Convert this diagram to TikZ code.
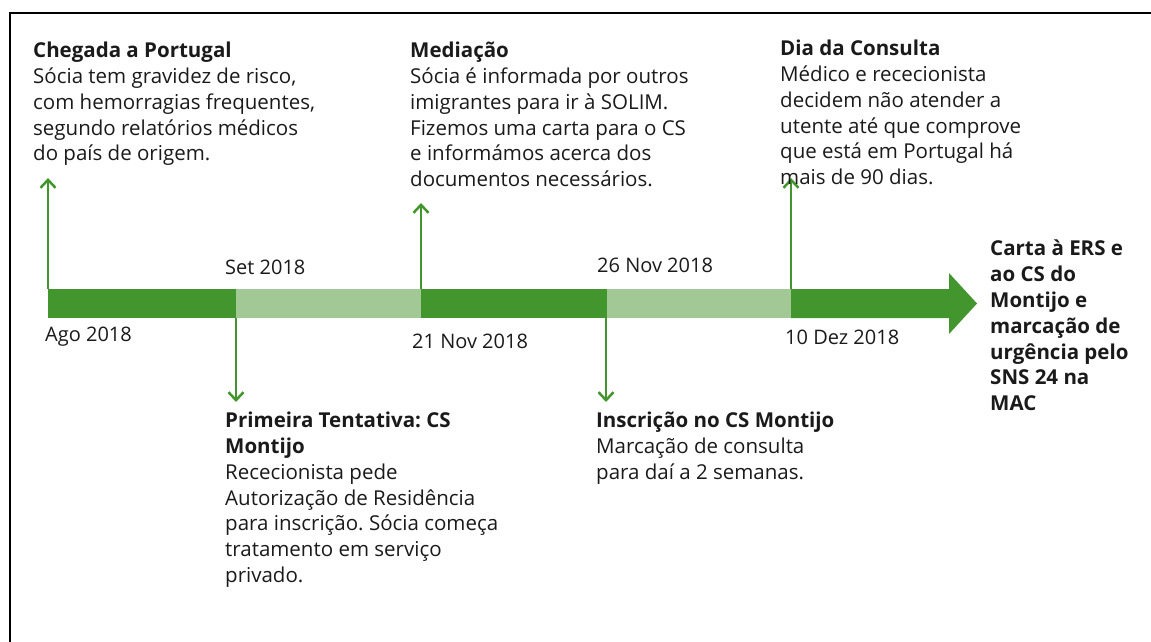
\documentclass[tikz,border=0pt]{standalone}
\usepackage{fontspec}
\setmainfont{Open Sans}
\frenchspacing
\usetikzlibrary{arrows.meta}
\definecolor{bardark}{HTML}{43962E}
\definecolor{barlight}{HTML}{A2C995}
\definecolor{txt}{HTML}{1A1A1A}
\tikzset{
  note/.style={anchor=north west, inner sep=0pt, align=left, text=txt, font=\fontsize{20.5}{25.8}\selectfont},
  datelbl/.style={anchor=west, inner sep=0pt, text=txt, font=\fontsize{20}{25.8}\selectfont},
  tick/.style={draw=bardark, line width=2pt, -{Straight Barb[length=8pt,width=15pt,line width=2.5pt]}},
}
\begin{document}
\begin{tikzpicture}[x=1pt,y=-1pt]
\useasboundingbox (0,0) rectangle (1151,642);
% frame
\draw[line width=2.5pt] (10,642) -- (10,13) -- (1151,13);
% timeline bar
\fill[bardark] (48,289) rectangle (236,318);
\fill[barlight] (236,289) rectangle (421,318);
\fill[bardark] (421,289) rectangle (607,318);
\fill[barlight] (607,289) rectangle (791,318);
\fill[bardark] (791,289) -- (949,289) -- (949,273) -- (977,303.5) -- (949,334) -- (949,318) -- (791,318) -- cycle;
% points on the bar and tick ends
\coordinate (ago) at (48,289);   \coordinate (agoend) at (48,178);
\coordinate (set) at (236,318);  \coordinate (setend) at (236,402);
\coordinate (nov21) at (421,289); \coordinate (nov21end) at (421,203);
\coordinate (nov26) at (606,318); \coordinate (nov26end) at (606,402);
\coordinate (dez) at (791,289);  \coordinate (dezend) at (791,178);
\draw[tick] (ago) -- (agoend);
\draw[tick] (set) -- (setend);
\draw[tick] (nov21) -- (nov21end);
\draw[tick] (nov26) -- (nov26end);
\draw[tick] (dez) -- (dezend);
% dates
\node[datelbl] (lago) at (45,337) {Ago 2018};
\node[datelbl] (lset) at (225,267) {Set 2018};
\node[datelbl] (lnov21) at (412,341) {21 Nov 2018};
\node[datelbl] (lnov26) at (597,265) {26 Nov 2018};
\node[datelbl] (ldez) at (785,337) {10 Dez 2018};
% events
\node[note] (chegada) at (33,42) {\textbf{Chegada a Portugal}\\Sócia tem gravidez de risco,\\com hemorragias frequentes,\\segundo relatórios médicos\\do país de origem.};
\node[note] (mediacao) at (410,42) {\textbf{Mediação}\\Sócia é informada por outros\\imigrantes para ir à SOLIM.\\Fizemos uma carta para o CS\\e informámos acerca dos\\documentos necessários.};
\node[note] (consulta) at (780,40) {\textbf{Dia da Consulta}\\Médico e rececionista\\decidem não atender a\\utente até que comprove\\que está em Portugal há\\mais de 90 dias.};
\node[note] (tentativa) at (225,412) {\textbf{Primeira Tentativa: CS}\\\textbf{Montijo}\\Rececionista pede\\Autorização de Residência\\para inscrição. Sócia começa\\tratamento em serviço\\privado.};
\node[note] (inscricao) at (596,412) {\textbf{Inscrição no CS Montijo}\\Marcação de consulta\\para daí a 2 semanas.};
\node[note, font=\fontsize{20.5}{25.8}\selectfont\bfseries] (carta) at (990,240) {Carta à ERS e\\ao CS do\\Montijo e\\marcação de\\urgência pelo\\SNS 24 na\\MAC};
\end{tikzpicture}
\end{document}
